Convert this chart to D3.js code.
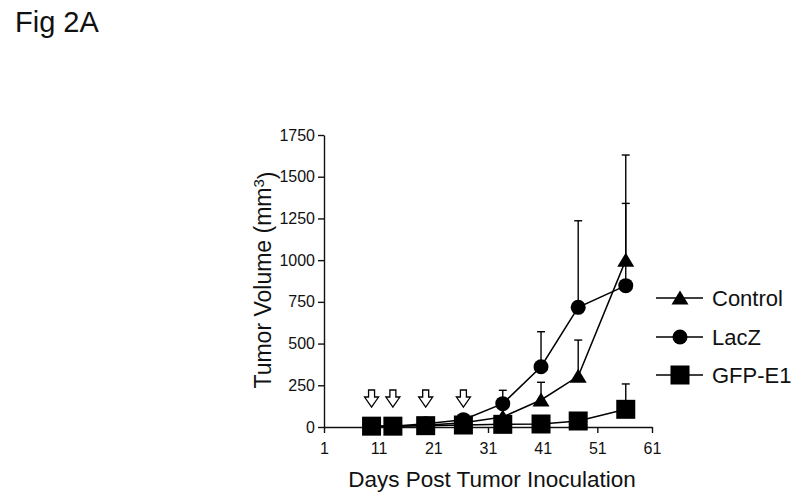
<!DOCTYPE html>
<html>
<head>
<meta charset="utf-8">
<script src="https://cdn.jsdelivr.net/npm/d3@7"></script>
<style>
  body { margin: 0; background: #fff; }
  svg { font-family: "Liberation Sans", Arial, sans-serif; }
</style>
</head>
<body>
<div id="chart"></div>
<script>
// DATA
const days = [9.7, 13.6, 19.6, 26.5, 33.7, 40.7, 47.5, 56.2];
const seriesNames = ["Control", "LacZ", "GFP-E1"];
const controlValues = [5, 5, 10, 25, 60, 162, 304, 1000];
const controlErrors = [0, 0, 0, 0, 0, 106, 217, 630];
const lacZValues = [5, 5, 20, 44, 140, 361, 717, 847];
const lacZErrors = [0, 0, 0, 8, 80, 210, 519, 493];
const gfpValues = [5, 5, 8, 12, 16, 18, 36, 106];
const gfpErrors = [0, 0, 0, 0, 0, 0, 0, 152];
const arrowDays = [9.7, 13.6, 19.6, 26.5];
const xTicks = [1, 11, 21, 31, 41, 51, 61];
const yTicks = [0, 250, 500, 750, 1000, 1250, 1500, 1750];

const W = 800, H = 499;

const svg = d3.select("#chart").append("svg")
    .attr("width", W)
    .attr("height", H);

const x = d3.scaleLinear().domain([1, 61]).range([324, 652]);
const y = d3.scaleLinear().domain([0, 1750]).range([427, 135]);

// markers
const triangle = "M0,-7.5L8.5,6.5L-8.5,6.5Z";
function marker(sel, shape) {
    if (shape === "triangle") {
        sel.append("path").attr("d", triangle).attr("fill", "#000");
    } else if (shape === "circle") {
        sel.append("circle").attr("r", 7.5).attr("fill", "#000");
    } else {
        sel.append("rect").attr("x", -9.5).attr("y", -9.5)
            .attr("width", 19).attr("height", 19).attr("fill", "#000");
    }
}

const series = [
    {name: seriesNames[0], values: controlValues, errors: controlErrors, shape: "triangle"},
    {name: seriesNames[1], values: lacZValues, errors: lacZErrors, shape: "circle"},
    {name: seriesNames[2], values: gfpValues, errors: gfpErrors, shape: "square"}
];

// axes
const gy = svg.append("g")
    .attr("transform", `translate(${x(1)},0)`)
    .call(d3.axisLeft(y).tickValues(yTicks).tickFormat(d3.format("d"))
        .tickSize(6).tickSizeOuter(0).tickPadding(3));

const gx = svg.append("g")
    .attr("transform", `translate(0,${y(0)})`)
    .call(d3.axisBottom(x).tickValues(xTicks).tickFormat(d3.format("d"))
        .tickSize(6).tickSizeOuter(0).tickPadding(10));

[gx, gy].forEach(g => {
    g.selectAll("path, line").attr("stroke", "#111").attr("stroke-width", 1.4);
    g.selectAll("text").attr("fill", "#111").style("font-size", "16px")
        .style("font-family", "'Liberation Sans', Arial, sans-serif");
});

// error bars (upper only)
const gErr = svg.append("g").attr("stroke", "#000").attr("stroke-width", 1.4);
series.forEach(s => {
    s.values.forEach((v, i) => {
        const e = s.errors[i];
        if (!e) return;
        const cx = x(days[i]);
        gErr.append("line").attr("x1", cx).attr("x2", cx)
            .attr("y1", y(v)).attr("y2", y(v + e));
        gErr.append("line").attr("x1", cx - 4).attr("x2", cx + 4)
            .attr("y1", y(v + e)).attr("y2", y(v + e));
    });
});

// lines and points
const line = d3.line().x((d, i) => x(days[i])).y(d => y(d));
series.forEach(s => {
    svg.append("path")
        .datum(s.values)
        .attr("d", line)
        .attr("fill", "none")
        .attr("stroke", "#000")
        .attr("stroke-width", 1.5);
});
series.forEach(s => {
    s.values.forEach((v, i) => {
        const g = svg.append("g").attr("transform", `translate(${x(days[i])},${y(v)})`);
        marker(g, s.shape);
    });
});

// treatment arrows
const arrowPath = "M-3,-17L3,-17L3,-10L7,-10L0,0L-7,-10L-3,-10Z";
arrowDays.forEach(d => {
    svg.append("path")
        .attr("transform", `translate(${x(d)},${y(0) - 20})`)
        .attr("d", arrowPath)
        .attr("fill", "#fff")
        .attr("stroke", "#000")
        .attr("stroke-width", 1.3)
        .attr("stroke-linejoin", "miter");
});

// legend
const legend = svg.append("g").attr("transform", "translate(656,0)");
const legendY = [298, 337, 375];
series.forEach((s, i) => {
    const g = legend.append("g").attr("transform", `translate(0,${legendY[i]})`);
    g.append("line").attr("x1", 0).attr("x2", 47).attr("stroke", "#000").attr("stroke-width", 1.5);
    const m = g.append("g").attr("transform", "translate(24,0)");
    marker(m, s.shape);
    g.append("text").attr("x", 56).attr("dy", "0.36em")
        .style("font-size", "22px").attr("fill", "#111").text(s.name);
});

// titles
svg.append("text")
    .attr("x", 492).attr("y", 487)
    .attr("text-anchor", "middle")
    .style("font-size", "22.5px").attr("fill", "#111")
    .text("Days Post Tumor Inoculation");

const yt = svg.append("text")
    .attr("transform", "translate(271,280) rotate(-90)")
    .attr("text-anchor", "middle")
    .style("font-size", "23px").attr("fill", "#111");
yt.append("tspan").text("Tumor Volume (mm");
yt.append("tspan").attr("dy", "-0.45em").style("font-size", "15px").text("3");
yt.append("tspan").attr("dy", "0.45em").text(")");

svg.append("text")
    .attr("x", 15).attr("y", 32)
    .style("font-size", "29px").attr("fill", "#111")
    .text("Fig 2A");
</script>
</body>
</html>
